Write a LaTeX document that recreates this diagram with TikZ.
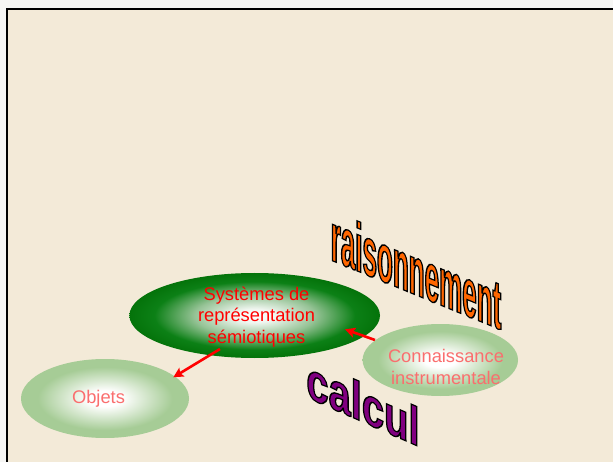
\documentclass[tikz,border=0pt]{standalone}
\usepackage{fontspec}
\setmainfont{Liberation Sans}
\newfontfamily\raisfont{Liberation Sans}[FakeStretch=0.377]
\newfontfamily\calcfont{Liberation Sans}[FakeStretch=0.74]
\usetikzlibrary{shapes.geometric,arrows.meta,calc}
\definecolor{bg}{RGB}{243,234,216}
\definecolor{outbg}{RGB}{246,246,244}
\definecolor{dkgreen}{RGB}{12,128,22}
\definecolor{dkgreenB}{RGB}{4,115,10}
\definecolor{dkgreenC}{RGB}{240,246,240}
\definecolor{dkgreenD}{RGB}{150,195,150}
\definecolor{ltgreen}{RGB}{166,204,150}
\definecolor{worange}{RGB}{255,102,0}
\definecolor{wpurple}{RGB}{128,0,128}
\definecolor{salmon}{RGB}{250,110,110}
\pgfdeclareradialshading{darkshade}{\pgfpoint{0bp}{0bp}}{color(0bp)=(white); color(4bp)=(dkgreenC); color(12bp)=(dkgreenD); color(20bp)=(dkgreen); color(25bp)=(dkgreenB); color(50bp)=(dkgreenB)}
\pgfdeclareradialshading{lightshade}{\pgfpoint{0bp}{0bp}}{color(0bp)=(white); color(5bp)=(white); color(20bp)=(ltgreen); color(25bp)=(ltgreen); color(50bp)=(ltgreen)}
\newcommand\outlined[1]{\special{pdf:code 2 Tr 0 0 0 RG 1.3 w}#1\special{pdf:code 0 Tr}}
\tikzset{
  blob/.style={ellipse, inner sep=0pt, draw=none},
  lbl/.style={font=\fontsize{18.3}{21.5}\selectfont, align=center, inner sep=0pt},
  redarrow/.style={draw=red, line width=2.6pt, -{Stealth[length=10pt,width=10pt,inset=2pt]}},
  wa/.style={inner sep=0pt, anchor=base, transform shape}
}
\begin{document}
\begin{tikzpicture}[x=1pt,y=-1pt]
\useasboundingbox (0,0) rectangle (613,462);
\fill[outbg] (0,0) rectangle (613,462);
\clip (0,0) rectangle (613,462);
\draw[line width=2pt, fill=bg] (7,9.5) rectangle (650,500);

% ellipses
\node[blob, minimum width=250.6pt, minimum height=85pt, shading=darkshade] (sys) at (254.7,315.5) {};
\node[blob, minimum width=155.4pt, minimum height=72pt, shading=lightshade] (con) at (440.3,360) {};
\node[blob, minimum width=168pt, minimum height=79pt, shading=lightshade] (obj) at (105,398.5) {};

% labels
\node[lbl, text=red] (systxt) at (256.5,316.7) {Systèmes de\\représentation\\sémiotiques};
\node[lbl, text=salmon] (contxt) at (446,366.8) {Connaissance\\instrumentale};
\node[lbl, text=salmon, anchor=base] (objtxt) at (98.5,403) {Objets};

% arrows
\coordinate (a1s) at ($(sys.center)+(-34.7,33.5)$);
\coordinate (a1e) at ($(obj.center)+(68.3,-21.2)$);
\coordinate (a2s) at ($(con.center)+(-65.3,-20)$);
\coordinate (a2e) at ($(sys.center)+(90.3,13.8)$);
\draw[redarrow] (a1s) -- (a1e);
\draw[redarrow] (a2s) -- (a2e);

% word art
\node[wa, font=\raisfont\bfseries\fontsize{69}{69}\selectfont, text=worange, shift={(416,295)}, yslant=-0.41] (rais) at (0,0) {\outlined{raisonnement}};
\node[wa, font=\calcfont\bfseries\fontsize{54}{54}\selectfont, text=wpurple, shift={(363,422)}, yslant=-0.44] (calcw) at (0,0) {\outlined{calcul}};
\end{tikzpicture}
\end{document}
